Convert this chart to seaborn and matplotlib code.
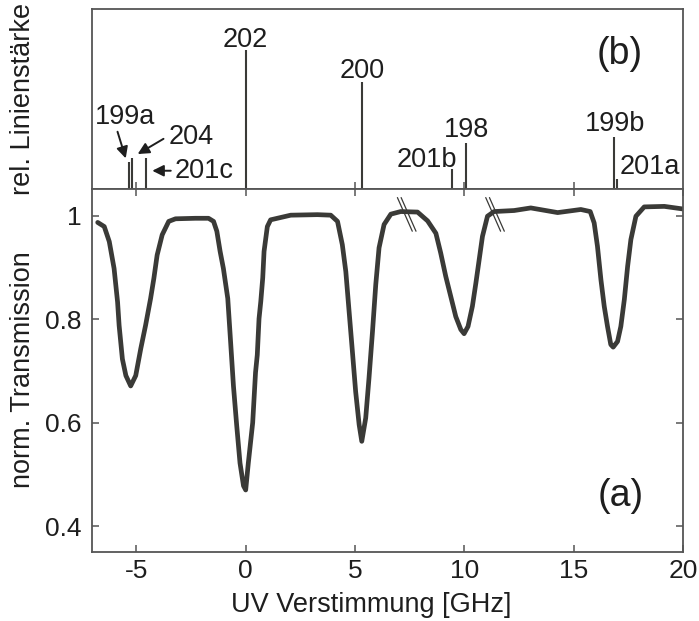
import pandas as pd
import seaborn as sns
import matplotlib.pyplot as plt

# Transmission (a)
detuning = [-6.77, -6.47, -6.24, -6.02, -5.86, -5.79, -5.64, -5.48, -5.26, -5.03,
            -4.80, -4.58, -4.35, -4.20, -4.05, -3.82, -3.52, -3.21, -2.30, -1.70,
            -1.47, -1.32, -1.17, -1.02, -0.82, -0.71, -0.56, -0.41, -0.26, -0.10,
            0.00, 0.12, 0.32, 0.45, 0.53, 0.61, 0.69, 0.78, 0.84, 0.99,
            1.14, 2.06, 3.28, 3.89, 4.20, 4.42, 4.58, 4.73, 4.88, 5.03,
            5.19, 5.31, 5.49, 5.64, 5.80, 5.95, 6.10, 6.33, 6.64, 7.09,
            7.86, 8.32, 8.70, 8.92, 9.15, 9.38, 9.61, 9.84, 9.99, 10.17,
            10.37, 10.53, 10.68, 10.83, 11.06, 11.36, 12.28, 13.04, 14.27, 15.33,
            15.76, 15.94, 16.09, 16.25, 16.40, 16.55, 16.70, 16.81, 17.01, 17.16,
            17.32, 17.47, 17.62, 17.85, 18.23, 19.15, 20.00]
transmission = [0.987, 0.979, 0.950, 0.898, 0.833, 0.788, 0.723, 0.691, 0.671, 0.691,
                0.743, 0.788, 0.840, 0.879, 0.924, 0.963, 0.989, 0.994, 0.995, 0.995,
                0.989, 0.970, 0.931, 0.898, 0.840, 0.769, 0.671, 0.594, 0.522, 0.478,
                0.470, 0.522, 0.600, 0.697, 0.731, 0.801, 0.834, 0.880, 0.931, 0.979,
                0.992, 1.001, 1.002, 1.001, 0.989, 0.944, 0.892, 0.815, 0.738, 0.660,
                0.596, 0.564, 0.609, 0.686, 0.776, 0.867, 0.938, 0.983, 1.003, 1.008,
                1.007, 0.990, 0.966, 0.928, 0.883, 0.844, 0.805, 0.780, 0.772, 0.786,
                0.825, 0.870, 0.915, 0.960, 0.999, 1.008, 1.010, 1.015, 1.006, 1.012,
                1.008, 0.986, 0.941, 0.876, 0.825, 0.786, 0.751, 0.746, 0.757, 0.786,
                0.838, 0.902, 0.954, 0.999, 1.017, 1.018, 1.013]

# Linienstaerken (b)
isotopes = ['199a', '204', '201c', '202', '200', '201b', '198', '199b', '201a']
line_pos = [-5.34, -5.22, -4.58, 0.0, 5.31, 9.45, 10.10, 16.84, 16.98]
line_strength = [0.196, 0.225, 0.221, 1.0, 0.77, 0.144, 0.33, 0.374, 0.072]

df = pd.DataFrame({'x': detuning, 'T': transmission})

sns.set_theme(style='ticks')
plt.rcParams['font.family'] = ['Liberation Sans', 'DejaVu Sans']
plt.rcParams['axes.unicode_minus'] = False

col = '#3a3a37'
spine_col = '#555555'
txt = '#1e1e1e'

fig = plt.figure(figsize=(6.99, 6.21), dpi=100)
ax_b = fig.add_axes([0.131, 0.696, 0.846, 0.2895])
ax_a = fig.add_axes([0.131, 0.111, 0.846, 0.585])

# (a) transmission curve
sns.lineplot(data=df, x='x', y='T', ax=ax_a, color=col, lw=3.4, sort=False)
ax_a.set_xlim(-7.05, 20)
ax_a.set_ylim(0.35, 1.052)
ax_a.set_xticks([-5, 0, 5, 10, 15, 20])
ax_a.set_yticks([0.4, 0.6, 0.8, 1.0])
ax_a.set_yticklabels(['0.4', '0.6', '0.8', '1'])
ax_a.set_xlabel('')
ax_a.set_ylabel('')
ax_a.tick_params(direction='in', length=5, width=1.1, color=spine_col,
                 top=True, right=True, labelsize=19, labelcolor=txt)
ax_a.tick_params(axis='x', pad=5)
ax_a.tick_params(axis='y', pad=7)
ax_a.text(17.15, 0.458, '(a)', fontsize=27, ha='center', va='center', color=txt)

# break marks on the curve
for xb in [6.94, 10.98]:
    for off in [0.0, 0.17]:
        ax_a.plot([xb + off, xb + off + 0.68], [1.035, 0.970], color=col, lw=0.9)

# (b) stick spectrum
ax_b.vlines(line_pos, 0, line_strength, color=col, lw=1.5)
ax_b.set_xlim(-7.05, 20)
ax_b.set_ylim(0, 1.295)
ax_b.set_xticks([-5, 0, 5, 10, 15])
ax_b.set_yticks([])
ax_b.tick_params(axis='x', direction='in', length=5, width=1.1, color=spine_col,
                 labelbottom=False)

fs = 19.5
lbl = dict(fontsize=fs, ha='center', va='center', color=txt)
ax_b.text(0.0, 1.07, '202', **lbl)
ax_b.text(5.31, 0.85, '200', **lbl)
ax_b.text(10.1, 0.42, '198', **lbl)
ax_b.text(8.3, 0.21, '201b', **lbl)
ax_b.text(16.9, 0.47, '199b', **lbl)
ax_b.text(18.5, 0.155, '201a', **lbl)
ax_b.text(-5.5, 0.52, '199a', **lbl)
ax_b.text(-2.5, 0.375, '204', **lbl)
ax_b.text(-1.9, 0.13, '201c', **lbl)
ax_b.text(17.1, 0.97, '(b)', fontsize=27, ha='center', va='center', color=txt)

arw = dict(arrowstyle='-|>', color=txt, lw=1.4, mutation_scale=17)
ax_b.annotate('', xy=(-5.45, 0.2), xytext=(-5.9, 0.43), arrowprops=arw)
ax_b.annotate('', xy=(-5.05, 0.24), xytext=(-3.65, 0.37), arrowprops=arw)
ax_b.annotate('', xy=(-4.4, 0.13), xytext=(-3.3, 0.13), arrowprops=arw)

for ax in (ax_a, ax_b):
    for s in ax.spines.values():
        s.set_color(spine_col)
        s.set_linewidth(1.3)

fig.text(0.033, 0.8406, 'rel. Linienstärke', rotation=90, fontsize=19.5,
         ha='center', va='center', color=txt)
fig.text(0.033, 0.404, 'norm. Transmission', rotation=90, fontsize=19.5,
         ha='center', va='center', color=txt)
fig.text(0.5315, 0.0145, 'UV Verstimmung [GHz]', fontsize=19.5,
         ha='center', va='baseline', color=txt)

fig.savefig('out.png', dpi=100)
